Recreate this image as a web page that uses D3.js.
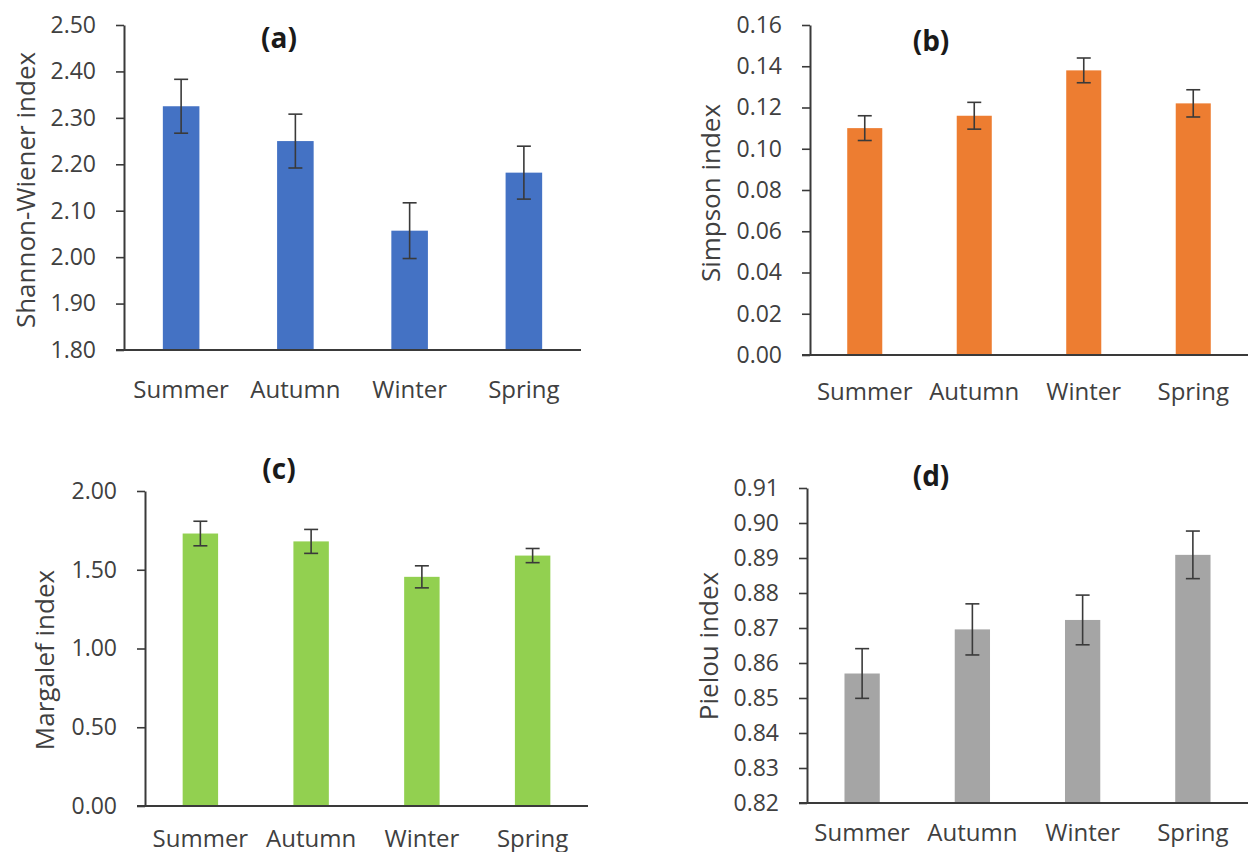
<!DOCTYPE html>
<html>
<head>
<meta charset="utf-8">
<script src="https://cdn.jsdelivr.net/npm/d3@7"></script>
<style>
	body { margin: 0; background: #fff; }
	.tick text { font-family: "Open Sans", sans-serif; fill: #404040; }
	.lbl { font-family: "Open Sans", sans-serif; fill: #404040; }
	.ttl { font-family: "Open Sans", sans-serif; font-weight: bold; fill: #1a1a1a; }
</style>
</head>
<body>
<div class="diversity"></div>
<script>
// Data
var seasons = ["Summer", "Autumn", "Winter", "Spring"];

var shannon = [2.325, 2.250, 2.057, 2.182];
var shannonErr = [0.058, 0.058, 0.060, 0.057];

var simpson = [0.110, 0.116, 0.138, 0.122];
var simpsonErr = [0.006, 0.0065, 0.006, 0.0066];

var margalef = [1.73, 1.68, 1.455, 1.59];
var margalefErr = [0.078, 0.076, 0.07, 0.045];

var pielou = [0.857, 0.8696, 0.8723, 0.8909];
var pielouErr = [0.0071, 0.0073, 0.0071, 0.0068];

var shannonTicks = [1.8, 1.9, 2.0, 2.1, 2.2, 2.3, 2.4, 2.5];
var simpsonTicks = [0, 0.02, 0.04, 0.06, 0.08, 0.10, 0.12, 0.14, 0.16];
var margalefTicks = [0, 0.5, 1.0, 1.5, 2.0];
var pielouTicks = [0.82, 0.83, 0.84, 0.85, 0.86, 0.87, 0.88, 0.89, 0.90, 0.91];

var W = 1250, H = 852;

var svg = d3.select(".diversity")
	.append("svg")
	.attr("width", W)
	.attr("height", H);

// one panel = one bar chart with error bars
function drawPanel(p) {
	var g = svg.append("g").attr("class", "panel");

	var x = d3.scaleBand()
		.domain(seasons)
		.range([p.x0, p.x1])
		.paddingInner(0.68)
		.paddingOuter(0.34);

	var y = d3.scaleLinear()
		.domain(p.domain)
		.range([p.yb, p.yt]);

	// bars
	g.selectAll("rect.bar")
		.data(p.values)
		.enter()
		.append("rect")
		.attr("class", "bar")
		.attr("x", function(d, i) { return x(seasons[i]); })
		.attr("width", x.bandwidth())
		.attr("y", function(d) { return y(d); })
		.attr("height", function(d) { return y(p.domain[0]) - y(d); })
		.attr("fill", p.color);

	// error bars
	var cap = 7;
	var eb = g.selectAll("g.err")
		.data(p.values)
		.enter()
		.append("g")
		.attr("class", "err")
		.attr("stroke", "#3a3a3a")
		.attr("stroke-width", 1.6);
	eb.append("line")
		.attr("x1", function(d, i) { return x(seasons[i]) + x.bandwidth()/2; })
		.attr("x2", function(d, i) { return x(seasons[i]) + x.bandwidth()/2; })
		.attr("y1", function(d, i) { return y(d - p.errs[i]); })
		.attr("y2", function(d, i) { return y(d + p.errs[i]); });
	eb.append("line")
		.attr("x1", function(d, i) { return x(seasons[i]) + x.bandwidth()/2 - cap; })
		.attr("x2", function(d, i) { return x(seasons[i]) + x.bandwidth()/2 + cap; })
		.attr("y1", function(d, i) { return y(d + p.errs[i]); })
		.attr("y2", function(d, i) { return y(d + p.errs[i]); });
	eb.append("line")
		.attr("x1", function(d, i) { return x(seasons[i]) + x.bandwidth()/2 - cap; })
		.attr("x2", function(d, i) { return x(seasons[i]) + x.bandwidth()/2 + cap; })
		.attr("y1", function(d, i) { return y(d - p.errs[i]); })
		.attr("y2", function(d, i) { return y(d - p.errs[i]); });

	// y axis
	var yAxis = g.append("g")
		.attr("transform", "translate(" + p.x0 + ",0)")
		.call(d3.axisLeft(y)
			.tickValues(p.ticks)
			.tickFormat(d3.format(".2f"))
			.tickSize(8)
			.tickSizeOuter(0)
			.tickPadding(20));
	yAxis.select(".domain").attr("stroke", "#3a3a3a").attr("stroke-width", 2);
	yAxis.selectAll(".tick line").attr("stroke", "#3a3a3a").attr("stroke-width", 1.6);
	yAxis.selectAll(".tick text").style("font-size", "23px");

	// x axis line (no ticks)
	g.append("line")
		.attr("x1", p.x0 - 8)
		.attr("x2", p.x1)
		.attr("y1", y(p.domain[0]))
		.attr("y2", y(p.domain[0]))
		.attr("stroke", "#3a3a3a")
		.attr("stroke-width", 2);

	// category labels
	g.selectAll("text.cat")
		.data(seasons)
		.enter()
		.append("text")
		.attr("class", "lbl cat")
		.attr("x", function(d) { return x(d) + x.bandwidth()/2; })
		.attr("y", p.catY)
		.attr("text-anchor", "middle")
		.attr("dominant-baseline", "central")
		.style("font-size", "24px")
		.text(function(d) { return d; });

	// y axis title
	g.append("text")
		.attr("class", "lbl")
		.attr("transform", "translate(" + p.labX + "," + p.labY + ") rotate(-90)")
		.attr("text-anchor", "middle")
		.attr("dominant-baseline", "central")
		.style("font-size", "26px")
		.text(p.label);

	// panel letter
	g.append("text")
		.attr("class", "ttl")
		.attr("x", p.titleX)
		.attr("y", p.titleY)
		.attr("text-anchor", "middle")
		.attr("dominant-baseline", "central")
		.style("font-size", "28px")
		.text(p.title);
}

drawPanel({
	values: shannon, errs: shannonErr, ticks: shannonTicks,
	domain: [1.8, 2.5], color: "#4472C4",
	x0: 124, x1: 581, yt: 25, yb: 350,
	catY: 388, labX: 25, labY: 190,
	title: "(a)", titleX: 279, titleY: 37,
	label: "Shannon-Wiener index"
});

drawPanel({
	values: simpson, errs: simpsonErr, ticks: simpsonTicks,
	domain: [0, 0.16], color: "#ED7D31",
	x0: 810, x1: 1248, yt: 25, yb: 355,
	catY: 390, labX: 710, labY: 193,
	title: "(b)", titleX: 931, titleY: 40,
	label: "Simpson index"
});

drawPanel({
	values: margalef, errs: margalefErr, ticks: margalefTicks,
	domain: [0, 2], color: "#92D050",
	x0: 145, x1: 588, yt: 491, yb: 806,
	catY: 837, labX: 44, labY: 660,
	title: "(c)", titleX: 279, titleY: 468,
	label: "Margalef index"
});

drawPanel({
	values: pielou, errs: pielouErr, ticks: pielouTicks,
	domain: [0.82, 0.91], color: "#A5A5A5",
	x0: 807, x1: 1248, yt: 488, yb: 803,
	catY: 831, labX: 708, labY: 646,
	title: "(d)", titleX: 931, titleY: 475,
	label: "Pielou index"
});
</script>
</body>
</html>
